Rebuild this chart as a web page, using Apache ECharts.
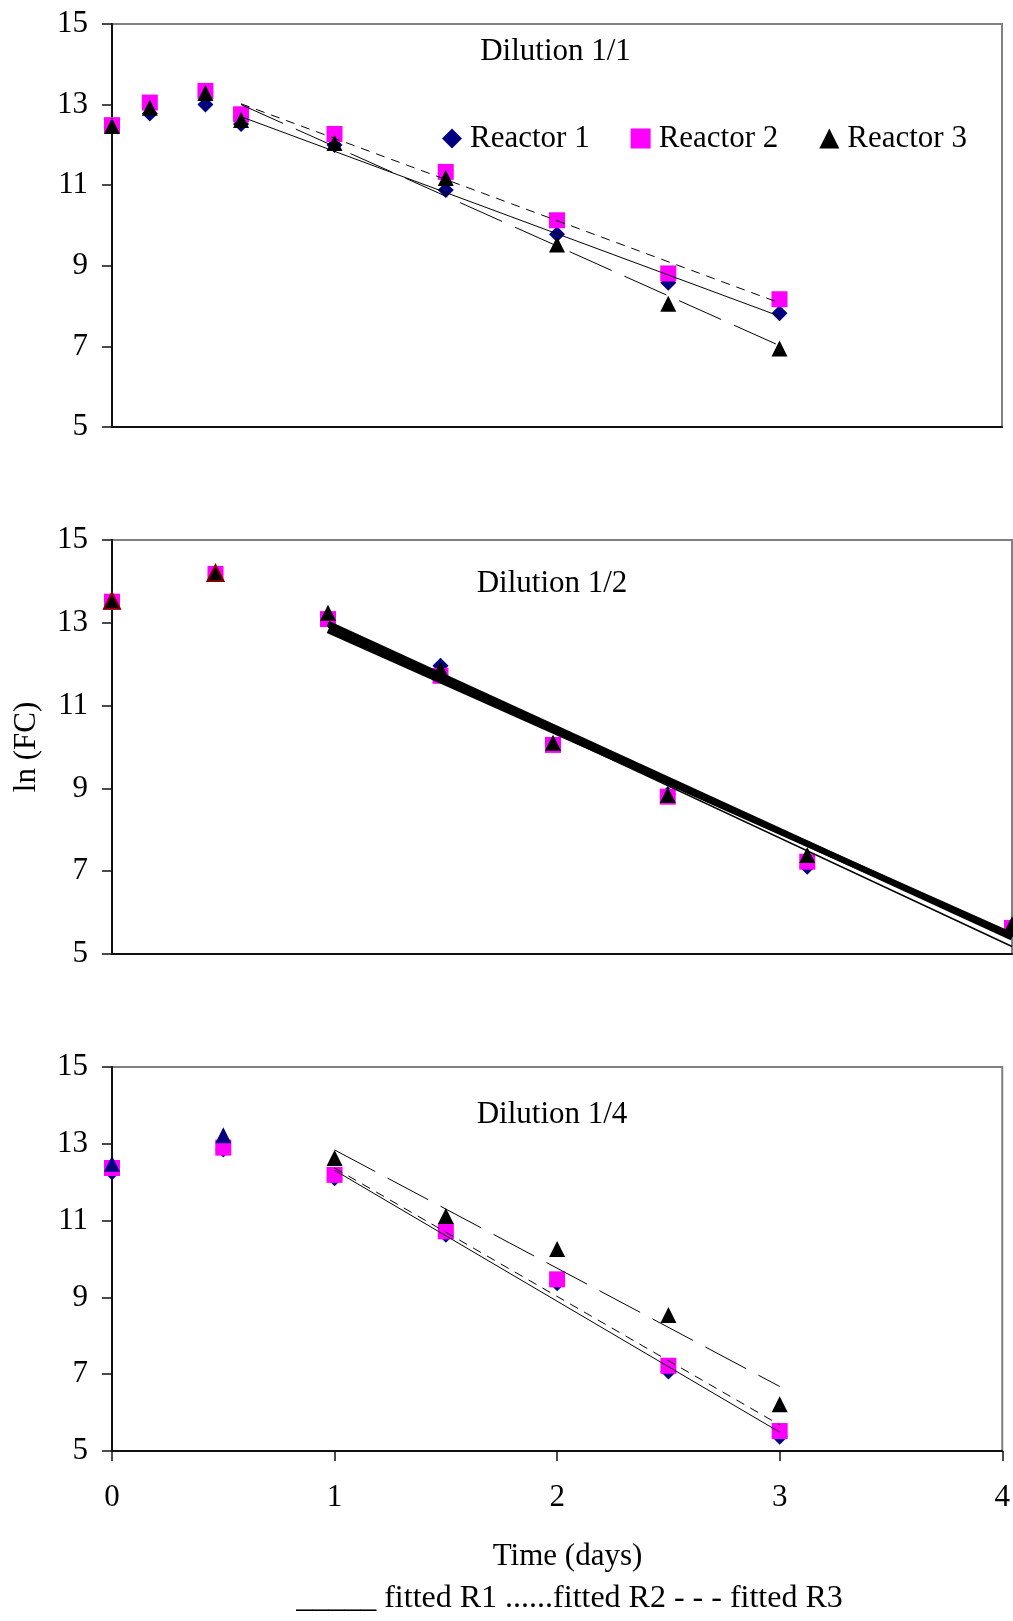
<!DOCTYPE html>
<html><head><meta charset="utf-8">
<script src="https://cdn.jsdelivr.net/npm/echarts@6/dist/echarts.min.js"></script>
<style>html,body{margin:0;padding:0;background:#fff}#c{width:1013px;height:1621px}</style>
</head><body><div id="c"></div>
<script>
// ---------- data ----------
const reactorNames = ['Reactor 1', 'Reactor 2', 'Reactor 3'];
const panelTitles = ['Dilution 1/1', 'Dilution 1/2', 'Dilution 1/4'];
const xTickLabels = ['0', '1', '2', '3', '4'];
const yAxisName = 'ln (FC)';
const xAxisName = 'Time (days)';
const fitLegendText = '_____ fitted R1 ......fitted R2 - - - fitted R3';

// Dilution 1/1
const d1Time = [0, 0.17, 0.42, 0.58, 1, 1.5, 2, 2.5, 3];
const d1R1 = [12.45, 12.78, 13.0, 12.52, 12.0, 10.88, 9.78, 8.58, 7.82];
const d1R2 = [12.49, 13.05, 13.34, 12.76, 12.27, 11.33, 10.13, 8.81, 8.17];
const d1R3 = [12.47, 12.92, 13.29, 12.62, 12.05, 11.18, 9.53, 8.06, 6.95];
const d1FitTime = [0.58, 3];
const d1FitR1 = [12.70, 7.75];
const d1FitR2 = [13.02, 8.08];
const d1FitR3 = [13.0, 7.02];

// Dilution 1/2
const d2Time = [0, 0.46, 0.96, 1.46, 1.96, 2.47, 3.09, 4.0];
const d2R1 = [13.5, 14.17, 13.1, 11.96, 10.07, 8.86, 7.11, 5.6];
const d2R2 = [13.51, 14.18, 13.09, 11.72, 10.05, 8.8, 7.23, 5.63];
const d2R3 = [13.53, 14.2, 13.24, 11.88, 10.1, 8.84, 7.39, 5.72];
const d2FitTime = [0.96, 4.0];
const d2FitR1 = [12.82, 5.45];
const d2FitR2 = [12.98, 5.4];
const d2FitR3 = [12.9, 5.18];

// Dilution 1/4
const d4Time = [0, 0.5, 1, 1.5, 2, 2.5, 3];
const d4R1 = [12.26, 12.85, 12.1, 10.63, 9.37, 7.07, 5.37];
const d4R2 = [12.37, 12.9, 12.19, 10.72, 9.47, 7.22, 5.52];
const d4R3 = [12.48, 13.22, 12.63, 11.12, 10.26, 8.54, 6.22];
const d4FitTime = [1, 3];
const d4FitR1 = [12.31, 5.49];
const d4FitR2 = [12.37, 5.68];
const d4FitR3 = [12.84, 6.68];

// ---------- styling / building ----------
const FONT = 'Liberation Serif';
const FS = 31;
const symbols = ['diamond', 'rect', 'triangle'];
const colors = ['#000080', '#FF00FF', '#000000'];

function pts(xs, ys, styleFn) {
  return xs.map((x, i) => {
    const p = { value: [x, ys[i]] };
    const st = styleFn ? styleFn(i) : null;
    if (st) p.itemStyle = st;
    return p;
  });
}
function scatter(g, r, xs, ys, styleFn) {
  return {
    type: 'scatter', name: reactorNames[r], xAxisIndex: g, yAxisIndex: g,
    symbol: symbols[r], symbolSize: 16,
    itemStyle: { color: colors[r], opacity: 1 },
    data: pts(xs, ys, styleFn), z: 2, silent: true
  };
}
function fit(g, xs, ys, type, width) {
  return {
    type: 'line', name: 'fit', xAxisIndex: g, yAxisIndex: g,
    symbol: 'none', data: xs.map((x, i) => [x, ys[i]]),
    lineStyle: { color: '#000', width: width, type: type },
    z: 3, silent: true
  };
}
const shortDash = [9, 7];
const longDash = [46, 14];

const series = [
  scatter(0, 0, d1Time, d1R1), scatter(0, 1, d1Time, d1R2), scatter(0, 2, d1Time, d1R3),
  fit(0, d1FitTime, d1FitR1, 'solid', 1), fit(0, d1FitTime, d1FitR2, shortDash, 1), fit(0, d1FitTime, d1FitR3, longDash, 1),

  scatter(1, 0, d2Time, d2R1), scatter(1, 1, d2Time, d2R2),
  scatter(1, 2, d2Time, d2R3, i => i < 2 ? { color: '#000', borderColor: '#800000', borderWidth: 2 } : null),
  fit(1, d2FitTime, d2FitR1, 'solid', 6), fit(1, d2FitTime, d2FitR2, 'solid', 6), fit(1, d2FitTime, d2FitR3, 'solid', 1.5),

  scatter(2, 0, d4Time, d4R1), scatter(2, 1, d4Time, d4R2),
  scatter(2, 2, d4Time, d4R3, i => i < 2 ? { color: '#000080' } : null),
  fit(2, d4FitTime, d4FitR1, 'solid', 1), fit(2, d4FitTime, d4FitR2, shortDash, 1), fit(2, d4FitTime, d4FitR3, longDash, 1)
];

const grids = [
  { left: 112, top: 24, width: 890, height: 403 },
  { left: 112, top: 540, width: 900, height: 414 },
  { left: 112, top: 1067, width: 895, height: 384 }
];
const axisCol = '#111';

function txt(x, y, s, rot, fs) {
  const el = {
    type: 'text', x: x, y: y, silent: true,
    style: {
      text: s, fill: '#000', fontSize: fs || FS, fontFamily: FONT,
      textAlign: 'center', textVerticalAlign: 'middle', align: 'center', verticalAlign: 'middle'
    }
  };
  if (rot) el.rotation = rot;
  return el;
}

const option = {
  animation: false,
  backgroundColor: '#fff',
  grid: grids.map(g => Object.assign({ show: true, borderColor: '#808080', borderWidth: 2, backgroundColor: 'transparent' }, g)),
  xAxis: grids.map((g, i) => ({
    gridIndex: i, type: 'value', min: 0, max: 4, interval: 1,
    axisLine: { show: true, onZero: false, lineStyle: { color: axisCol, width: 2 } },
    axisTick: { show: i === 2, inside: false, length: 10, lineStyle: { color: axisCol, width: 1.5 } },
    axisLabel: { show: i === 2, margin: 31, fontSize: FS, fontFamily: FONT, color: '#000',
      formatter: v => xTickLabels[Math.round(v)] },
    splitLine: { show: false }
  })),
  yAxis: grids.map((g, i) => ({
    gridIndex: i, type: 'value', min: 5, max: 15, interval: 2,
    axisLine: { show: true, onZero: false, lineStyle: { color: axisCol, width: 2 } },
    axisTick: { show: true, inside: false, length: 10, lineStyle: { color: axisCol, width: 1.5 } },
    axisLabel: { margin: 24, fontSize: FS, fontFamily: FONT, color: '#000' },
    splitLine: { show: false }
  })),
  legend: {
    data: reactorNames, left: 442, top: 123, orient: 'horizontal',
    itemWidth: 20, itemHeight: 20, itemGap: 41, padding: 0,
    selectedMode: false,
    textStyle: { fontSize: FS, fontFamily: FONT, color: '#000', padding: [0, 0, 0, 3] }
  },
  graphic: [
    txt(555.5, 52, panelTitles[0]),
    txt(552, 584, panelTitles[1]),
    txt(552, 1114.5, panelTitles[2]),
    txt(27, 747, yAxisName, Math.PI / 2),
    txt(567.5, 1557, xAxisName),
    txt(569.5, 1599, fitLegendText, 0, 32)
  ],
  series: series
};

const chart = echarts.init(document.getElementById('c'), null, { renderer: 'canvas' });
chart.setOption(option);
</script>
</body></html>
